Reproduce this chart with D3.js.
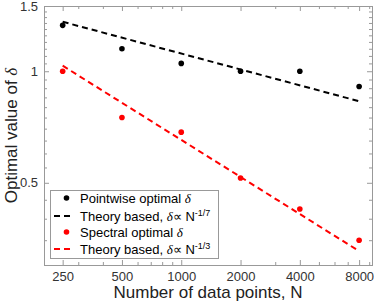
<!DOCTYPE html>
<html>
<head>
<meta charset="utf-8">
<script src="https://cdn.jsdelivr.net/npm/d3@7"></script>
<style>
	body { margin: 0; background: #fff; }
	svg { display: block; font-family: "Liberation Sans", Arial, sans-serif; }
	.axis text { fill: #333; font-size: 13px; }
	.axis path, .axis line { stroke: #999; }
	.delta { font-family: "Liberation Serif", serif; font-style: italic; }
</style>
</head>
<body>
<svg id="chart" width="374" height="302"></svg>
<script>
// data
var sizes = [250, 500, 1000, 2000, 4000, 8000];
var pointwise = [1.33, 1.15, 1.05, 1.0, 1.0, 0.91];
var spectral = [1.0, 0.75, 0.685, 0.515, 0.425, 0.35];

// theory lines, just the two end points of each
var theoryN = [250, 8000];
var theoryPointwise = [1.36, 0.83];
var theorySpectral = [1.035, 0.327];

var xTicks = [250, 500, 1000, 2000, 4000, 8000];
var xMinorTicks = [300, 400, 600, 700, 800, 900, 3000, 5000, 6000, 7000, 9000];
var yTicks = [0.5, 1, 1.5];
var yTickLabels = ["0.5", "1", "1.5"];
var yMinorTicks = [0.35, 0.4, 0.45, 0.55, 0.6, 0.65, 0.7, 0.75, 0.8, 0.85, 0.9, 0.95,
	1.05, 1.1, 1.15, 1.2, 1.25, 1.3, 1.35, 1.4, 1.45];

// plot box (window.top is taken, so own names)
var pLeft = 44, pRight = 372, pTop = 6, pBottom = 265;

var svg = d3.select("#chart");

var x = d3.scaleLog().domain([201, 9300]).range([pLeft, pRight]);
var y = d3.scaleLog().domain([0.3, 1.5]).range([pBottom, pTop]);

// minor ticks first, all four sides, pointing inwards
var minor = svg.append("g").attr("class", "axis");
minor.append("g").attr("transform", "translate(0," + pBottom + ")")
	.call(d3.axisBottom(x).tickValues(xMinorTicks).tickSize(-3).tickFormat(""));
minor.append("g").attr("transform", "translate(0," + pTop + ")")
	.call(d3.axisTop(x).tickValues(xMinorTicks).tickSize(-3).tickFormat(""));
minor.append("g").attr("transform", "translate(" + pLeft + ",0)")
	.call(d3.axisLeft(y).tickValues(yMinorTicks).tickSize(-3).tickFormat(""));
minor.append("g").attr("transform", "translate(" + pRight + ",0)")
	.call(d3.axisRight(y).tickValues(yMinorTicks).tickSize(-3).tickFormat(""));

// major ticks
svg.append("g").attr("class", "axis")
	.attr("transform", "translate(0," + pBottom + ")")
	.call(d3.axisBottom(x).tickValues(xTicks).tickSize(-5).tickPadding(7).tickFormat(d3.format("d")));
svg.append("g").attr("class", "axis")
	.attr("transform", "translate(0," + pTop + ")")
	.call(d3.axisTop(x).tickValues(xTicks).tickSize(-5).tickFormat(""));
svg.append("g").attr("class", "axis")
	.attr("transform", "translate(" + pLeft + ",0)")
	.call(d3.axisLeft(y).tickValues(yTicks).tickSize(-5).tickPadding(6)
		.tickFormat(function(d, i){ return yTickLabels[i]; }));
svg.append("g").attr("class", "axis")
	.attr("transform", "translate(" + pRight + ",0)")
	.call(d3.axisRight(y).tickValues(yTicks).tickSize(-5).tickFormat(""));

// theory lines
var line = d3.line()
	.x(function(d){ return x(d[0]); })
	.y(function(d){ return y(d[1]); });

svg.append("path")
	.datum(d3.zip(theoryN, theoryPointwise))
	.attr("d", line)
	.attr("fill", "none")
	.attr("stroke", "#000")
	.attr("stroke-width", 2)
	.attr("stroke-dasharray", "6,4");

svg.append("path")
	.datum(d3.zip(theoryN, theorySpectral))
	.attr("d", line)
	.attr("fill", "none")
	.attr("stroke", "#ff0000")
	.attr("stroke-width", 2)
	.attr("stroke-dasharray", "6,4");

// dots
svg.selectAll(".pw").data(pointwise).enter()
	.append("circle")
	.attr("class", "pw")
	.attr("cx", function(d, i){ return x(sizes[i]); })
	.attr("cy", function(d){ return y(d); })
	.attr("r", 2.8)
	.attr("fill", "#000");

svg.selectAll(".sp").data(spectral).enter()
	.append("circle")
	.attr("class", "sp")
	.attr("cx", function(d, i){ return x(sizes[i]); })
	.attr("cy", function(d){ return y(d); })
	.attr("r", 2.8)
	.attr("fill", "#ff0000");

// legend
var legend = svg.append("g");
legend.append("rect")
	.attr("x", 50.5).attr("y", 190.5)
	.attr("width", 168).attr("height", 68)
	.attr("fill", "#fff")
	.attr("stroke", "#999");

var rows = [198, 216, 232, 249];

legend.append("circle").attr("cx", 66.5).attr("cy", rows[0]).attr("r", 2.8).attr("fill", "#000");
legend.append("line").attr("x1", 54).attr("x2", 74).attr("y1", rows[1]).attr("y2", rows[1])
	.attr("stroke", "#000").attr("stroke-width", 2).attr("stroke-dasharray", "6,4");
legend.append("circle").attr("cx", 66.5).attr("cy", rows[2]).attr("r", 2.8).attr("fill", "#ff0000");
legend.append("line").attr("x1", 54).attr("x2", 74).attr("y1", rows[3]).attr("y2", rows[3])
	.attr("stroke", "#ff0000").attr("stroke-width", 2).attr("stroke-dasharray", "6,4");

function legendText(row){
	return legend.append("text")
		.attr("x", 80).attr("y", row + 4.5)
		.attr("font-size", 13).attr("fill", "#000");
}

var t = legendText(rows[0]);
t.append("tspan").text("Pointwise optimal ");
t.append("tspan").attr("class", "delta").text("δ");

t = legendText(rows[1]);
t.append("tspan").text("Theory based, ");
t.append("tspan").attr("class", "delta").text("δ");
t.append("tspan").text("∝ N");
t.append("tspan").attr("font-size", 9).attr("dy", -5).text("-1/7");

t = legendText(rows[2]);
t.append("tspan").text("Spectral optimal ");
t.append("tspan").attr("class", "delta").text("δ");

t = legendText(rows[3]);
t.append("tspan").text("Theory based, ");
t.append("tspan").attr("class", "delta").text("δ");
t.append("tspan").text("∝ N");
t.append("tspan").attr("font-size", 9).attr("dy", -5).text("-1/3");

// axis labels
svg.append("text")
	.attr("x", (pLeft + pRight) / 2).attr("y", 298)
	.attr("text-anchor", "middle")
	.attr("font-size", 17).attr("fill", "#222")
	.text("Number of data points, N");

var yl = svg.append("text")
	.attr("transform", "translate(17," + ((pTop + pBottom) / 2) + ") rotate(-90)")
	.attr("text-anchor", "middle")
	.attr("font-size", 17).attr("fill", "#222");
yl.append("tspan").text("Optimal value of ");
yl.append("tspan").attr("class", "delta").text("δ");
</script>
</body>
</html>
